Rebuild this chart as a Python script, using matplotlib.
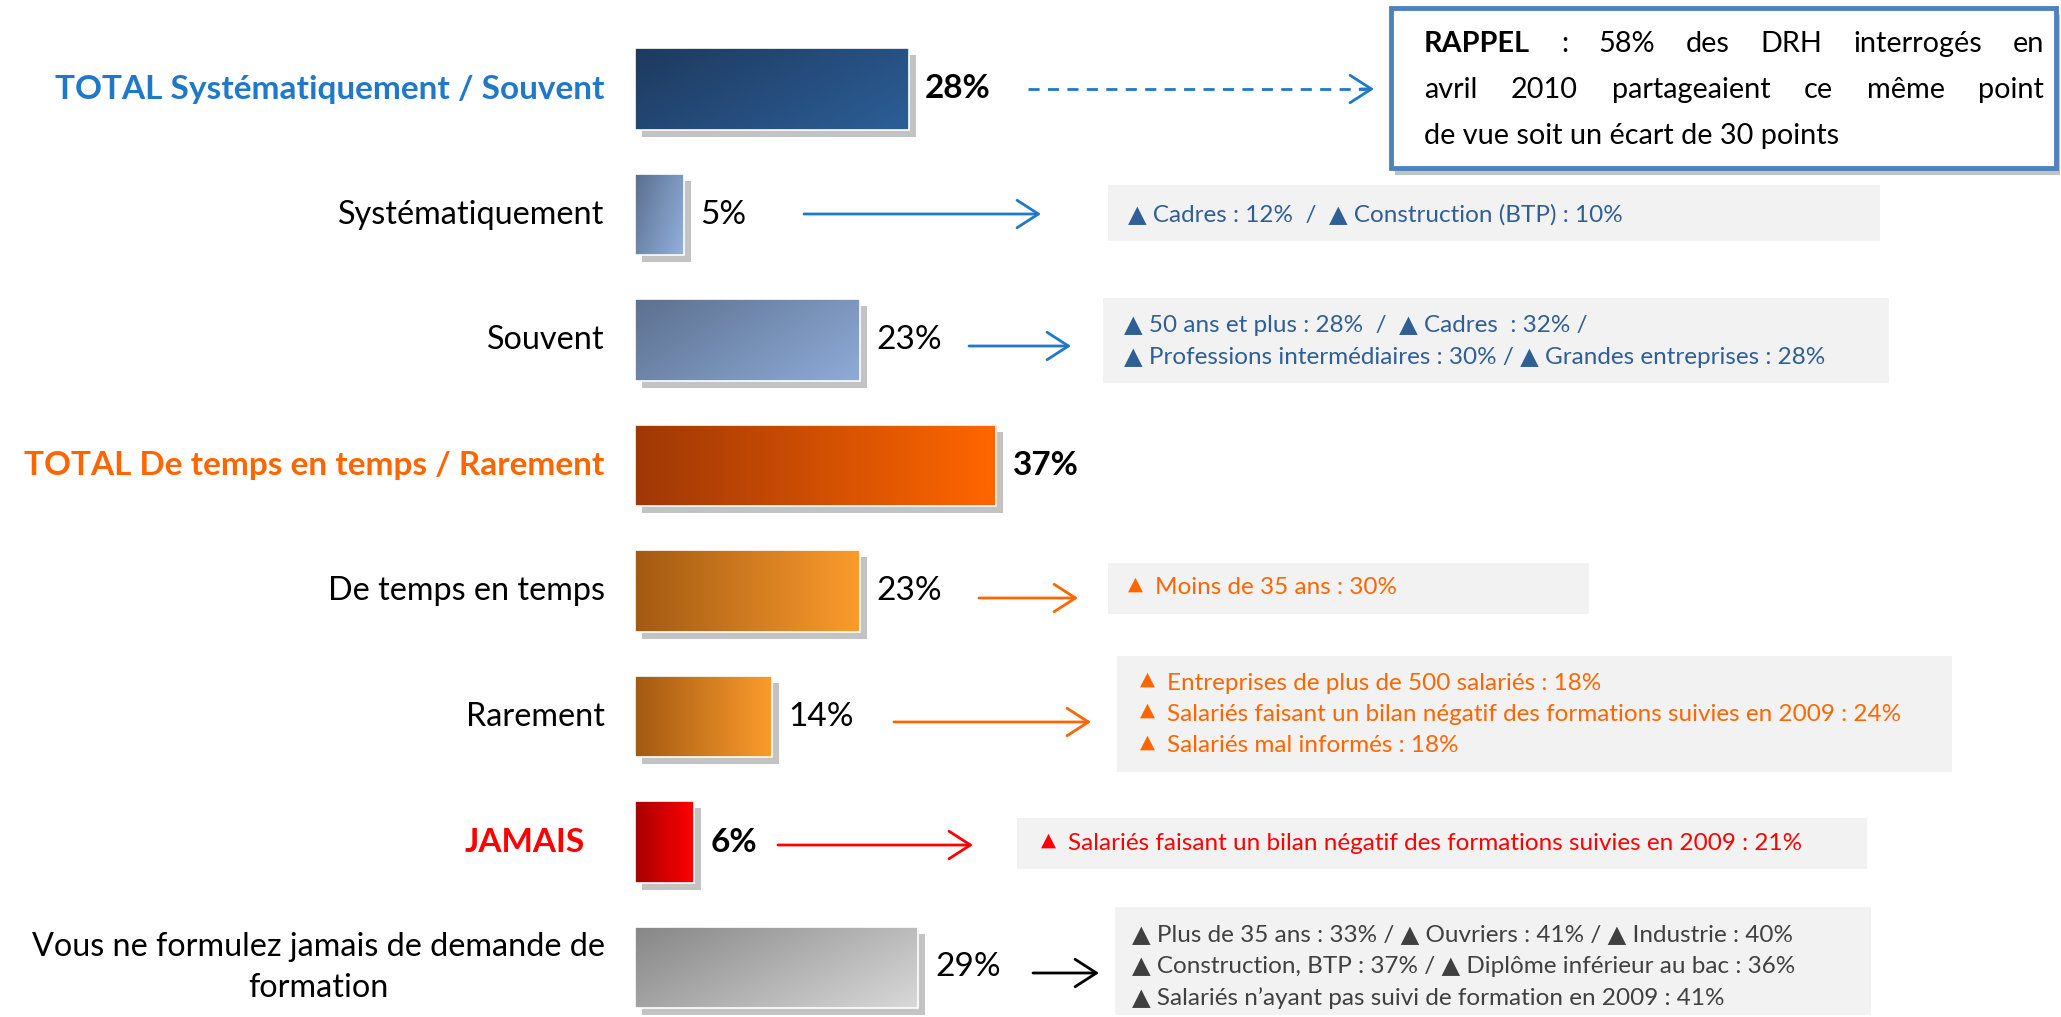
import numpy as np
import matplotlib
matplotlib.use('Agg')
import matplotlib.pyplot as plt
import matplotlib.patheffects as pe
from matplotlib.patches import Rectangle
from matplotlib.colors import LinearSegmentedColormap

# ── data ──────────────────────────────────────────────────────────────────────
categories = [
    'TOTAL Systématiquement / Souvent',
    'Systématiquement',
    'Souvent',
    'TOTAL De temps en temps / Rarement',
    'De temps en temps',
    'Rarement',
    'JAMAIS',
    'Vous ne formulez jamais de demande de\nformation',
]
values = [28, 5, 23, 37, 23, 14, 6, 29]

notes = [
    None,
    ['▲ Cadres : 12%  /  ▲ Construction (BTP) : 10%'],
    ['▲ 50 ans et plus : 28%  /  ▲ Cadres  : 32% /',
     '▲ Professions intermédiaires : 30% / ▲ Grandes entreprises : 28%'],
    None,
    ['Moins de 35 ans : 30%'],
    ['Entreprises de plus de 500 salariés : 18%',
     'Salariés faisant un bilan négatif des formations suivies en 2009 : 24%',
     'Salariés mal informés : 18%'],
    ['Salariés faisant un bilan négatif des formations suivies en 2009 : 21%'],
    ['▲ Plus de 35 ans : 33% / ▲ Ouvriers : 41% / ▲ Industrie : 40%',
     '▲ Construction, BTP : 37% / ▲ Diplôme inférieur au bac : 36%',
     '▲ Salariés n\u2019ayant pas suivi de formation en 2009 : 41%'],
]
small_tri = [False, False, False, False, True, True, True, False]
rappel_lines = [
    ['RAPPEL', ':', '58%', 'des', 'DRH', 'interrogés', 'en'],
    ['avril', '2010', 'partageaient', 'ce', 'même', 'point'],
    ['de vue soit un écart de 30 points'],
]

# ── styles ────────────────────────────────────────────────────────────────────
FONT = ['Lato', 'DejaVu Sans']
BLUE, ORANGE, RED, GREY = '#1f78c8', '#ff6600', '#ff0000', '#404040'
NOTE_BLUE = '#2f5f96'

grads = [('#1e3a5f', '#2c5e97', 'diag'),
         ('#5a6f8f', '#93b1dd', 'diag'),
         ('#5d7190', '#8eabd7', 'diag'),
         ('#a03806', '#ff6600', 'horiz'),
         ('#a35a12', '#fb9b2c', 'horiz'),
         ('#a35a12', '#fb9b2c', 'horiz'),
         ('#a80000', '#ff0000', 'horiz'),
         ('#878787', '#d8d8d8', 'diag')]
lab_style = [(BLUE, 'bold'), ('black', 'normal'), ('black', 'normal'),
             (ORANGE, 'bold'), ('black', 'normal'), ('black', 'normal'),
             (RED, 'bold'), ('black', 'normal')]
val_bold = [True, False, False, True, False, False, True, False]
arrow_col = [BLUE, BLUE, BLUE, None, ORANGE, ORANGE, RED, 'black']
note_col = [None, NOTE_BLUE, NOTE_BLUE, None, ORANGE, ORANGE, RED, GREY]

W, H = 2061, 1017
fig = plt.figure(figsize=(W / 100, H / 100), dpi=100, facecolor='white')

# bar axes: x in %, y in rows
ax = fig.add_axes([0, 0, 1, 1])
ax.set_axis_off()
PX_PER_PCT = 9.77
X0, Y0, ROW = 635, 89, 125.5

ypos = np.arange(len(values))
bars = ax.barh(ypos, values, height=0.65, color='#cccccc', zorder=2)

for i, b in enumerate(bars):
    b.set_path_effects([pe.SimplePatchShadow(offset=(5, -5), shadow_rgbFace='#c3c3c3',
                                             alpha=1.0), pe.Normal()])
    c0, c1, mode = grads[i]
    cmap = LinearSegmentedColormap.from_list(f'g{i}', [c0, c1])
    xx, yy = np.meshgrid(np.linspace(0, 1, 64), np.linspace(0, 1, 32))
    g = xx if mode == 'horiz' else (0.65 * xx + 0.35 * yy)
    x, y, w, h = b.get_x(), b.get_y(), b.get_width(), b.get_height()
    im = ax.imshow(g, cmap=cmap, extent=(x, x + w, y + h, y), origin='upper',
                   aspect='auto', zorder=3, interpolation='bilinear')
    im.set_clip_path(b)
    ax.add_patch(Rectangle((x, y), w, h, fill=False, ec='white', lw=1.2, zorder=4))

    # value label
    ax.text(values[i] + 1.7, ypos[i], f'{values[i]}%', ha='left', va='center',
            fontsize=24, family=FONT, fontweight='bold' if val_bold[i] else 'normal',
            color='black', zorder=5)

    # category label
    col, wt = lab_style[i]
    lx = -5.1 if categories[i] == 'JAMAIS' else -3.1
    ax.text(lx, ypos[i], categories[i], ha='right', va='center',
            fontsize=24 if wt == 'bold' else 23.3,
            family=FONT, fontweight=wt, color=col, multialignment='center',
            linespacing=1.45)

ax.set_xlim(-X0 / PX_PER_PCT, (W - X0) / PX_PER_PCT)
ax.set_ylim((H - Y0) / ROW, -Y0 / ROW)

# ── decoration layer in pixel coordinates ─────────────────────────────────────
deco = fig.add_axes([0, 0, 1, 1], zorder=5)
deco.set_axis_off()
deco.set_xlim(0, W)
deco.set_ylim(H, 0)
deco.patch.set_alpha(0)

# grey note boxes: (left, top, right, bottom), text left, first line y, line step
boxes = [None,
         (1108, 185, 1880, 241, 1128, 215, 0),
         (1103, 298, 1889, 383, 1124, 326, 31.5),
         None,
         (1108, 563, 1589, 614, 1128, 588, 0),
         (1117, 656, 1952, 772, 1140, 683, 31.5),
         (1017, 818, 1867, 869, 1041, 844, 0),
         (1115, 907, 1871, 1015, 1132, 935, 31.5)]
arrows = [None,
          (804, 1041, 214), (969, 1071, 346), None,
          (979, 1078, 598), (894, 1091, 722), (778, 973, 845), (1033, 1099, 973)]

for i in range(len(values)):
    if boxes[i] is None:
        continue
    l, t, r, btm, tx, ty, step = boxes[i]
    deco.add_patch(Rectangle((l, t), r - l, btm - t, fc='#f2f2f2', ec='none', zorder=1))
    for k, line in enumerate(notes[i]):
        if small_tri[i]:
            deco.text(tx, ty + k * step - 4, '▲', ha='left', va='center', fontsize=14,
                      family=FONT, color=note_col[i], zorder=3)
            deco.text(tx + 27, ty + k * step, line, ha='left', va='center',
                      fontsize=17.5, family=FONT, color=note_col[i], zorder=3)
        else:
            deco.text(tx, ty + k * step, line, ha='left', va='center', fontsize=17.5,
                      family=FONT, color=note_col[i], zorder=3)
    a0, a1, ay = arrows[i]
    deco.annotate('', xy=(a1, ay), xytext=(a0, ay),
                  arrowprops=dict(arrowstyle='->,head_length=0.7,head_width=0.45',
                                  color=arrow_col[i], lw=2, mutation_scale=22,
                                  shrinkA=0, shrinkB=0), zorder=3)

# dashed arrow to the RAPPEL box
deco.plot([1028, 1366], [89, 89], ls=(0, (4, 3)), lw=2, color=BLUE, zorder=3)
deco.annotate('', xy=(1374, 89), xytext=(1360, 89),
              arrowprops=dict(arrowstyle='->,head_length=0.7,head_width=0.45',
                              color=BLUE, lw=2, mutation_scale=22,
                              shrinkA=0, shrinkB=0), zorder=3)

# RAPPEL box
rb = Rectangle((1391, 8), 2056 - 1391, 168 - 8, fc='white', ec='#4f81bd', lw=3.5,
               zorder=2)
rb.set_path_effects([pe.SimplePatchShadow(offset=(3, -5), shadow_rgbFace='#9a9a9a',
                                          alpha=0.6), pe.Normal()])
deco.add_patch(rb)

renderer = fig.canvas.get_renderer()
TX0, TX1 = 1424, 2044
for k, (words, ly) in enumerate(zip(rappel_lines, [44, 90, 136])):
    texts = []
    for j, wd in enumerate(words):
        bold = (k == 0 and j == 0)
        texts.append(deco.text(0, ly, wd, ha='left', va='center', fontsize=20.8,
                               family=FONT, color='black', zorder=3,
                               fontweight='bold' if bold else 'normal'))
    widths = [t.get_window_extent(renderer=renderer).width for t in texts]
    gap = (TX1 - TX0 - sum(widths)) / (len(texts) - 1) if len(texts) > 1 else 0
    x = TX0
    for t, wdt in zip(texts, widths):
        t.set_x(x)
        x += wdt + gap

fig.savefig('out.png', dpi=100, facecolor='white')
